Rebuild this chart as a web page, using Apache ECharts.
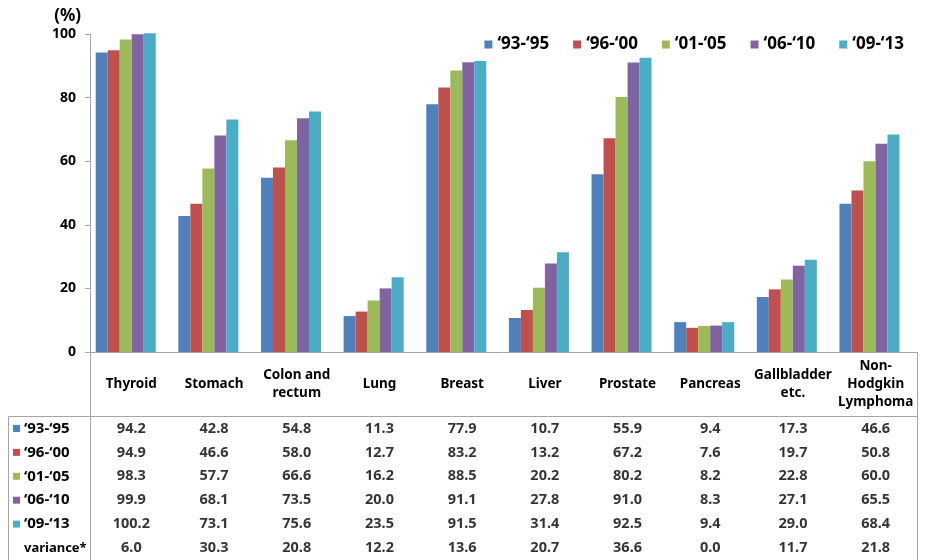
<!DOCTYPE html>
<html>
<head>
<meta charset="utf-8">
<script src="https://cdn.jsdelivr.net/npm/echarts@6/dist/echarts.min.js"></script>
<style>
  html, body { margin: 0; padding: 0; background: #fff; }
  #chart { width: 937px; height: 560px; }
</style>
</head>
<body>
<div id="chart"></div>
<script>
// Cancer sites on the x axis
const categories = ['Thyroid', 'Stomach', 'Colon and\nrectum', 'Lung', 'Breast', 'Liver',
  'Prostate', 'Pancreas', 'Gallbladder\netc.', 'Non-\nHodgkin\nLymphoma'];

// Relative survival (%) by diagnosis period
const periodNames = ['‘93-‘95', '‘96-‘00', '‘01-‘05', '‘06-‘10', '‘09-‘13'];
const p93_95 = [94.2, 42.8, 54.8, 11.3, 77.9, 10.7, 55.9, 9.4, 17.3, 46.6];
const p96_00 = [94.9, 46.6, 58.0, 12.7, 83.2, 13.2, 67.2, 7.6, 19.7, 50.8];
const p01_05 = [98.3, 57.7, 66.6, 16.2, 88.5, 20.2, 80.2, 8.2, 22.8, 60.0];
const p06_10 = [99.9, 68.1, 73.5, 20.0, 91.1, 27.8, 91.0, 8.3, 27.1, 65.5];
const p09_13 = [100.2, 73.1, 75.6, 23.5, 91.5, 31.4, 92.5, 9.4, 29.0, 68.4];
const variance = [6.0, 30.3, 20.8, 12.2, 13.6, 20.7, 36.6, 0.0, 11.7, 21.8];
const varianceName = 'variance*';

const yTicks = [0, 20, 40, 60, 80, 100];

const colors = ['#4F81BD', '#C0504D', '#9BBB59', '#8064A2', '#4BACC6'];
const periodValues = [p93_95, p96_00, p01_05, p06_10, p09_13];
const FONT = '"Noto Sans", "DejaVu Sans", sans-serif';
const GRID_LINE = '#A6A6A6';

const PLOT_TOP = 34;
const PLOT_H = 318;     // value axis spans y = 34 .. 352

const tableRows = periodNames.concat([varianceName]);
const tableData = [];
periodValues.concat([variance]).forEach((vals, r) => {
  vals.forEach((v, c) => tableData.push([c, r, v]));
});

// Rich styles for the table's row headers: a coloured square per period
const rich = {
  t: { fontFamily: FONT, fontWeight: 'bold', fontSize: 15, color: '#000', padding: [0, 0, 0, 4] },
  v: { fontFamily: FONT, fontWeight: 'bold', fontSize: 13, color: '#000', padding: [0, 0, 0, 4] },
  sn: { width: 7, height: 7 }
};
colors.forEach((c, i) => {
  rich['s' + i] = { width: 7, height: 7, backgroundColor: c };
});

const chart = echarts.init(document.getElementById('chart'));

// Bars sit on their own category axis, a few pixels left of the label columns
const barSeries = periodNames.map((name, i) => ({
  name: name,
  type: 'bar',
  xAxisIndex: 0,
  yAxisIndex: 0,
  data: periodValues[i],
  barGap: '0%',
  barCategoryGap: '27.4%',
  clip: false,
  itemStyle: { color: colors[i] },
  emphasis: { disabled: true }
}));

const valueAxisBase = {
  type: 'value',
  min: 0,
  max: 100,
  interval: 20,
  splitLine: { show: false }
};

chart.setOption({
  animation: false,
  textStyle: { fontFamily: FONT },
  legend: {
    data: periodNames,
    top: 31,
    right: 28,
    icon: 'rect',
    itemWidth: 8,
    itemHeight: 8,
    itemGap: 24,
    textStyle: { fontFamily: FONT, fontWeight: 'bold', fontSize: 17, color: '#000' }
  },
  grid: [
    // bar area
    { left: 84.4, right: 26.2, top: PLOT_TOP, height: PLOT_H },
    // table body
    { left: 90, right: 20, top: 416.5, height: 146 },
    // visible axes of the plot
    { left: 90, right: 20, top: PLOT_TOP, height: PLOT_H }
  ],
  xAxis: [
    {
      type: 'category',
      gridIndex: 0,
      data: categories,
      axisLine: { show: false },
      axisTick: { show: false },
      axisLabel: { show: false }
    },
    {
      type: 'category',
      gridIndex: 1,
      data: categories,
      position: 'top',
      axisLine: { show: false },
      axisTick: { show: false },
      axisLabel: {
        interval: 0,
        margin: 32.5,
        verticalAlign: 'middle',
        lineHeight: 18,
        fontFamily: FONT,
        fontWeight: 'bold',
        fontSize: 13.5,
        color: '#000'
      }
    },
    {
      type: 'category',
      gridIndex: 2,
      data: categories,
      axisLine: { lineStyle: { color: GRID_LINE, width: 1 } },
      axisTick: { show: false },
      axisLabel: { show: false }
    }
  ],
  yAxis: [
    Object.assign({}, valueAxisBase, {
      gridIndex: 0,
      axisLine: { show: false },
      axisTick: { show: false },
      axisLabel: { show: false }
    }),
    {
      type: 'category',
      gridIndex: 1,
      data: tableRows,
      inverse: true,
      axisLine: { show: false },
      axisTick: { show: false },
      axisLabel: {
        margin: 77,
        align: 'left',
        rich: rich,
        formatter: (val, idx) => {
          if (idx < colors.length) return '{s' + idx + '|}{t|' + val + '}';
          return '{sn|}{v|' + val + '}';
        }
      }
    },
    Object.assign({}, valueAxisBase, {
      gridIndex: 2,
      name: '(%)',
      nameLocation: 'end',
      nameGap: 9,
      nameTextStyle: {
        fontFamily: FONT, fontWeight: 'bold', fontSize: 17, color: '#000',
        align: 'right', verticalAlign: 'bottom', padding: [0, 9, 0, 0]
      },
      axisLine: { show: true, lineStyle: { color: GRID_LINE, width: 1 } },
      axisTick: { show: true, length: 5, lineStyle: { color: GRID_LINE } },
      axisLabel: {
        margin: 14,
        fontFamily: FONT,
        fontWeight: 'bold',
        fontSize: 14,
        color: '#000',
        customValues: yTicks
      }
    })
  ],
  series: barSeries.concat([{
    type: 'scatter',
    xAxisIndex: 1,
    yAxisIndex: 1,
    data: tableData,
    symbolSize: 1,
    itemStyle: { color: 'rgba(0,0,0,0)' },
    silent: true,
    label: {
      show: true,
      position: 'inside',
      formatter: p => p.value[2].toFixed(1),
      fontFamily: FONT,
      fontWeight: 'bold',
      fontSize: 14.5,
      color: '#000'
    }
  }]),
  graphic: [
    // table frame
    { type: 'line', silent: true, shape: { x1: 8.5, y1: 416.5, x2: 917.5, y2: 416.5 }, style: { stroke: GRID_LINE, lineWidth: 1 } },
    { type: 'line', silent: true, shape: { x1: 8.5, y1: 416.5, x2: 8.5, y2: 560 }, style: { stroke: GRID_LINE, lineWidth: 1 } },
    { type: 'line', silent: true, shape: { x1: 917.5, y1: 352, x2: 917.5, y2: 560 }, style: { stroke: GRID_LINE, lineWidth: 1 } },
    { type: 'line', silent: true, shape: { x1: 90.5, y1: 352, x2: 90.5, y2: 560 }, style: { stroke: GRID_LINE, lineWidth: 1 } }
  ]
});
</script>
</body>
</html>
